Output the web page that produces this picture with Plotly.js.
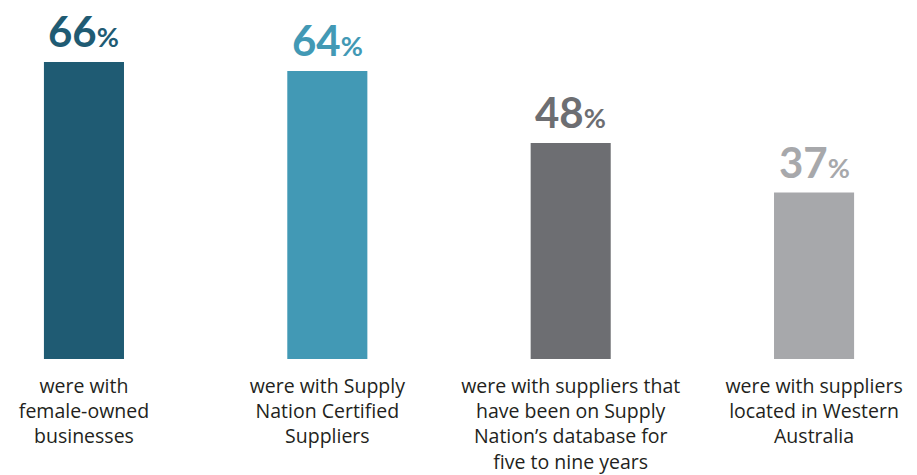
<!DOCTYPE html>
<html>
<head>
<meta charset="utf-8">
<script src="https://cdn.plot.ly/plotly-3.0.1.min.js"></script>
<style>html,body{margin:0;padding:0;background:#fff;}#chart{width:917px;height:475px;}</style>
</head>
<body>
<div id="chart"></div>
<script>
const categories = [
  "were with<br>female-owned<br>businesses",
  "were with Supply<br>Nation Certified<br>Suppliers",
  "were with suppliers that<br>have been on Supply<br>Nation’s database for<br>five to nine years",
  "were with suppliers<br>located in Western<br>Australia"
];
const values = [66, 64, 48, 37];
const valueLabels = ["66", "64", "48", "37"];
const barColors = ["#1f5b73", "#4299b5", "#6d6e72", "#a7a8ab"];

const trace = {
  type: "bar",
  x: categories,
  y: values,
  width: 0.329,
  marker: {color: barColors},
  hoverinfo: "skip"
};

const annotations = values.map((v, i) => ({
  x: categories[i],
  y: v,
  xref: "x",
  yref: "y",
  yanchor: "bottom",
  yshift: 4,
  showarrow: false,
  text: valueLabels[i] + "<span style='font-size:27px'>%</span>",
  font: {family: "Lato, sans-serif", size: 42, color: barColors[i], weight: 700}
}));

const layout = {
  width: 917,
  height: 475,
  margin: {l: 0, r: 0, t: 0, b: 116},
  paper_bgcolor: "#ffffff",
  plot_bgcolor: "#ffffff",
  showlegend: false,
  xaxis: {
    type: "category",
    range: [-0.345, 3.423],
    showgrid: false,
    zeroline: false,
    showline: false,
    ticks: "",
    tickfont: {family: "'Open Sans', sans-serif", size: 19.5, color: "#231f20"},
    ticklabelstandoff: 13
  },
  yaxis: {
    range: [0, 79.78],
    visible: false,
    showgrid: false,
    zeroline: false
  },
  annotations: annotations
};

Plotly.newPlot("chart", [trace], layout, {displayModeBar: false, staticPlot: true});
</script>
</body>
</html>
